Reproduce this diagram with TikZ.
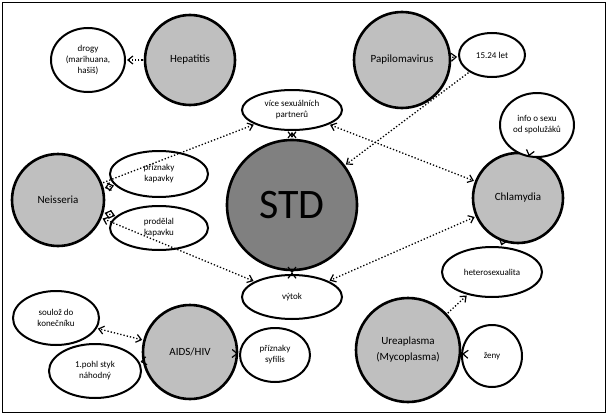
\documentclass[tikz,border=0pt]{standalone}
\usepackage{fontspec}
\setmainfont{Carlito}
\usetikzlibrary{arrows.meta,shapes.geometric}
\begin{document}
\begin{tikzpicture}[x=1pt,y=1pt,
  circ/.style={circle,draw,line width=2.6pt,fill=black!25,inner sep=0pt,font=\fontsize{11}{13}\selectfont,align=center},
  ell/.style={ellipse,draw,line width=2pt,fill=white,inner sep=0pt,font=\fontsize{9}{11}\selectfont,align=center},
  conn/.style={line width=1.3pt,dotted,shorten >=1pt,shorten <=1pt},
  tip/.style={-{Straight Barb[length=5pt,width=8pt,line width=1.2pt]}},
  tips/.style={{Straight Barb[length=5pt,width=8pt,line width=1.2pt]}-{Straight Barb[length=5pt,width=8pt,line width=1.2pt]}}]
\useasboundingbox (0,0) rectangle (608,-415);
\draw[line width=0.8pt] (2,-2) rectangle (605,-412);
\node[circ,minimum size=90pt] (hep) at (190,-60) {Hepatitis};
\node[circ,minimum size=96pt] (pap) at (402,-60) {Papilomavirus};
\node[circ,minimum size=130pt,fill=black!50,font=\fontsize{42}{46}\selectfont] (std) at (292,-205) {STD};
\node[circ,minimum size=92pt] (nei) at (58,-200) {Neisseria};
\node[circ,minimum size=90pt] (chl) at (518,-198) {Chlamydia};
\node[circ,minimum size=94pt] (aids) at (190,-352) {AIDS/HIV};
\node[circ,minimum size=104pt] (ure) at (408,-350) {Ureaplasma\\[3pt](Mycoplasma)};
\node[ell,minimum width=74pt,minimum height=64pt] (dro) at (88,-60) {drogy\\(marihuana,\\hašiš)};
\node[ell,minimum width=66pt,minimum height=44pt] (let) at (492,-55) {15.24 let};
\node[ell,minimum width=100pt,minimum height=40pt] (vic) at (292,-110) {více sexuálních\\partnerů};
\node[ell,minimum width=74pt,minimum height=64pt] (inf) at (537,-125) {info o sexu\\od spolužáků};
\node[ell,minimum width=98pt,minimum height=46pt] (kap) at (159,-174) {příznaky\\kapavky};
\node[ell,minimum width=98pt,minimum height=44pt] (pro) at (159,-228) {prodělal\\kapavku};
\node[ell,minimum width=100pt,minimum height=50pt] (het) at (492,-272) {heterosexualita};
\node[ell,minimum width=100pt,minimum height=44pt] (vyt) at (292,-297) {výtok};
\node[ell,minimum width=86pt,minimum height=54pt] (sou) at (56,-318) {soulož do\\konečníku};
\node[ell,minimum width=92pt,minimum height=54pt] (poh) at (95,-371) {1.pohl styk\\náhodný};
\node[ell,minimum width=70pt,minimum height=54pt] (syf) at (275,-355) {příznaky\\syfilis};
\node[ell,minimum width=60pt,minimum height=62pt] (zen) at (492,-356) {ženy};
\draw[conn,tip] (hep) -- (dro);
\draw[conn,tip] (pap) -- (let);
\draw[conn,tip] (let) -- (std);
\draw[conn,tips] (vic) -- (std);
\draw[conn,tip] (nei) -- (vic);
\draw[conn,tips] (vic) -- (chl);
\draw[conn,tips] (nei) -- (kap);
\draw[conn,tips] (nei) -- (pro);
\draw[conn,tips] (nei) -- (vyt);
\draw[conn,tips] (std) -- (vyt);
\draw[conn,tips] (chl) -- (vyt);
\draw[conn,tip] (chl) -- (inf);
\draw[conn,tip] (chl) -- (het);
\draw[conn,tip] (ure) -- (het);
\draw[conn,tip] (ure) -- (zen);
\draw[conn,tips] (aids) -- (sou);
\draw[conn,tip] (aids) -- (poh);
\draw[conn,tip] (aids) -- (syf);
\end{tikzpicture}
\end{document}
